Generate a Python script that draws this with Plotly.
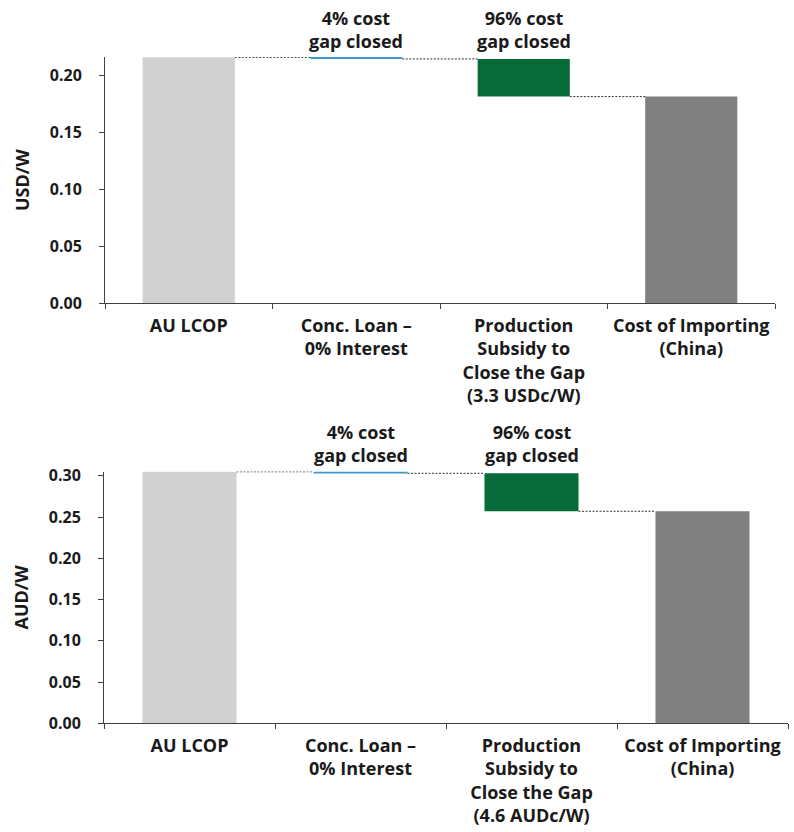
import plotly.graph_objects as go
from plotly.subplots import make_subplots

# Waterfall steps shared by both panels
categories = ["AU LCOP", "Conc. Loan –<br>0% Interest",
              "Production<br>Subsidy to<br>Close the Gap<br>({sub})",
              "Cost of Importing<br>(China)"]

# USD/W panel
usd_lcop = 0.2155
usd_loan = 0.0014
usd_subsidy = 0.033
usd_import = 0.1811
usd_sub_label = "3.3 USDc/W"

# AUD/W panel
aud_lcop = 0.3050
aud_loan = 0.0019
aud_subsidy = 0.046
aud_import = 0.2571
aud_sub_label = "4.6 AUDc/W"

gap_share = ["4% cost<br>gap closed", "96% cost<br>gap closed"]

C_LCOP = "#d0d0d0"
C_LOAN = "#3d9ad1"
C_SUB = "#066b38"
C_IMP = "#808080"
AXIS = "#404040"
TEXT = "#1a1a1a"
FONT = "Open Sans"
BAR_W = 0.55

W, H = 794, 832
ML, MR = 104, 4

fig = make_subplots(rows=2, cols=1)


def panel(row, lcop, loan, subsidy, imp, sub_label):
    labels = [c.replace("{sub}", sub_label) for c in categories]
    after_loan = lcop - loan
    after_sub = after_loan - subsidy
    bases = [0, after_loan, after_sub, 0]
    heights = [lcop, loan, subsidy, imp]
    colors = [C_LCOP, C_LOAN, C_SUB, C_IMP]
    fig.add_trace(go.Bar(x=labels, y=heights, base=bases, width=BAR_W,
                         marker=dict(color=colors, line=dict(width=0)),
                         showlegend=False, hoverinfo="skip"),
                  row=row, col=1)
    # dashed connectors between consecutive steps
    levels = [lcop, after_loan, imp]
    xa = "x" if row == 1 else "x2"
    ya = "y" if row == 1 else "y2"
    for i, lvl in enumerate(levels):
        fig.add_shape(type="line", xref=xa, yref=ya,
                      x0=i + BAR_W / 2, x1=i + 1 - BAR_W / 2, y0=lvl, y1=lvl,
                      line=dict(color="#303030", width=1, dash="2px,1.5px"))
    return labels


lab1 = panel(1, usd_lcop, usd_loan, usd_subsidy, usd_import, usd_sub_label)
lab2 = panel(2, aud_lcop, aud_loan, aud_subsidy, aud_import, aud_sub_label)

pw = W - ML - MR
top_dom = [(105 - ML) / pw, (775 - ML) / pw]
bot_dom = [0, (788 - ML) / pw]

xcommon = dict(type="category", tickson="boundaries", ticks="outside",
               ticklen=5, tickcolor=AXIS, showline=True, linecolor=AXIS,
               linewidth=1, showgrid=False, zeroline=False, automargin=False,
               tickfont=dict(family=FONT, size=18, color=TEXT, weight="bold"),
               ticklabelstandoff=6)
ycommon = dict(ticks="outside", ticklen=5, tickcolor=AXIS, showline=True,
               linecolor=AXIS, linewidth=1, showgrid=False, zeroline=False,
               automargin=False, dtick=0.05, tickformat=".2f",
               tickfont=dict(family=FONT, size=16, color=TEXT, weight="bold"),
               ticklabelstandoff=14)

fig.update_xaxes(**xcommon)
fig.update_yaxes(**ycommon)

fig.update_layout(
    xaxis=dict(domain=top_dom),
    xaxis2=dict(domain=bot_dom),
    yaxis=dict(domain=[1 - 303.3 / H, 1 - 57 / H], range=[0, 0.2158],
               title=dict(text="USD/W", standoff=15,
                          font=dict(family=FONT, size=18, color=TEXT,
                                    weight="bold"))),
    yaxis2=dict(domain=[1 - 723.3 / H, 1 - 471.5 / H], range=[0, 0.3053],
                title=dict(text="AUD/W", standoff=15,
                           font=dict(family=FONT, size=18, color=TEXT,
                                     weight="bold"))),
    width=W, height=H,
    margin=dict(l=ML, r=MR, t=0, b=0),
    paper_bgcolor="white", plot_bgcolor="white",
    bargap=0.45,
)

# "share of cost gap closed" call-outs above the loan and subsidy steps
for xref, labs, ycen in (("x", lab1, 30), ("x2", lab2, 443.5)):
    for k, txt in enumerate(gap_share):
        fig.add_annotation(x=labs[k + 1], xref=xref, y=1 - ycen / H,
                           yref="paper", text=txt, showarrow=False,
                           yanchor="middle", xanchor="center",
                           font=dict(family=FONT, size=18, color=TEXT,
                                     weight="bold"))

fig.write_html("out.html")
